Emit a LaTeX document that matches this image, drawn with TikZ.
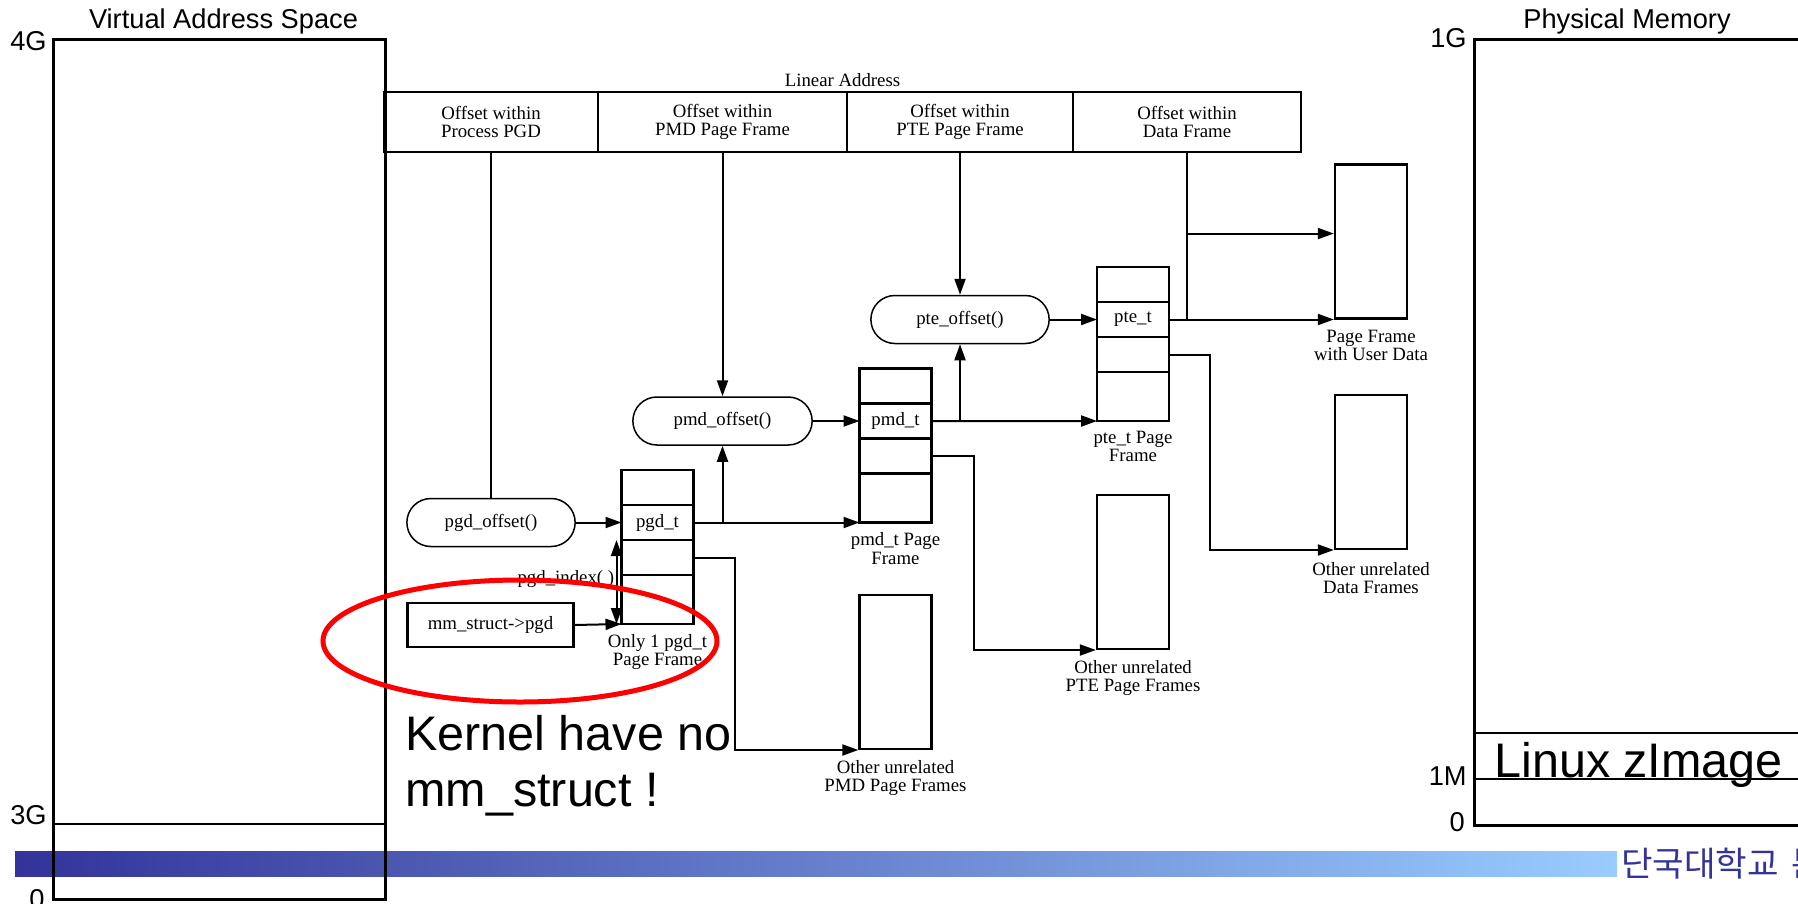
\documentclass[tikz,border=0pt]{standalone}
\usepackage{fontspec}
\setmainfont{Liberation Serif}
\setsansfont{Liberation Sans}
\newfontfamily\hangulfont{Noto Sans CJK KR}
\usetikzlibrary{positioning,calc,arrows.meta,shapes.misc,shapes.geometric}
\definecolor{barLeft}{RGB}{51,51,153}
\definecolor{barRight}{RGB}{153,204,255}
\definecolor{univBlue}{RGB}{51,51,153}
\newcommand\figfont{\fontsize{10.7}{10.4}\selectfont}
\newcommand\axisfont{\sffamily\fontsize{15.5}{17}\selectfont}
\newcommand\notefont{\sffamily\fontsize{27.6}{32}\selectfont}
\tikzset{
  >={Triangle[length=3.2mm,width=2.2mm]},
  wire/.style={line width=0.4mm},
  addrCell/.style={draw,line width=0.46mm,outer sep=0pt,minimum height=12mm,inner sep=0pt,align=center,font=\figfont},
  offsetFunc/.style={draw,rounded rectangle,line width=0.3mm,minimum height=9.6mm,font=\figfont},
  tblRow/.style={draw,line width=0.46mm,minimum width=14.4mm,inner sep=0pt,outer sep=0pt},
  frameBox/.style={draw,line width=0.46mm,minimum width=14.4mm,minimum height=30.8mm,inner sep=0pt},
  frameLabel/.style={font=\figfont,align=center,anchor=north,inner sep=0pt},
  entryText/.style={font=\figfont,inner sep=0pt},
  memBox/.style={draw,line width=0.6mm,inner sep=0pt},
  axisLabel/.style={font=\axisfont,inner sep=0pt},
  noteText/.style={font=\notefont,inner sep=0pt,anchor=base west},
}

\begin{document}
\begin{tikzpicture}[x=0.2mm,y=-0.2mm]
\useasboundingbox (0,0) rectangle (1798,903);

% ===== Footer bar =====
\shade[left color=barLeft,right color=barRight] (15,851) rectangle (1617,876);
\node[font={\hangulfont\fontsize{19.5}{22}\selectfont},text=univBlue,anchor=west,inner sep=0pt] (univName) at (1621,864) {단국대학교\hspace{2.6mm}분산처리 연구실};

% ===== Virtual address space =====
\node[memBox,minimum width=66.4mm,minimum height=172mm,anchor=north west] (vasBox) at (52,38) {};
\coordinate (vas3G) at (52,824);
\draw[line width=0.46mm] (vas3G) -- (vas3G -| vasBox.east);
\node[axisLabel,anchor=base] (vasTitle) at ($(vasBox.north)+(4,-10)$) {Virtual Address Space};
\node[axisLabel,anchor=base east] (vas4G) at ($(vasBox.north west)+(-5,12)$) {4G};
\node[axisLabel,anchor=base east] (vas3GLbl) at ($(vas3G)+(-5,0)$) {3G};
\node[axisLabel,anchor=base east] (vas0) at ($(vasBox.south west)+(-7,7)$) {0};

% ===== Physical memory =====
\node[memBox,minimum width=70mm,minimum height=157.2mm,anchor=north west] (pmBox) at (1473,38) {};
\coordinate (pmImgTop) at (1473,733);
\coordinate (pm1M) at (1473,779);
\draw[line width=0.46mm] (pmImgTop) -- (pmImgTop -| pmBox.east);
\draw[line width=0.46mm] (pm1M) -- (pm1M -| pmBox.east);
\node[axisLabel,anchor=base] (pmTitle) at ($(pmBox.north west)+(154,-10)$) {Physical Memory};
\node[axisLabel,anchor=base east] (pm1G) at ($(pmBox.north west)+(-6,9)$) {1G};
\node[axisLabel,anchor=base east] (pm1MLbl) at ($(pm1M)+(-6,6)$) {1M};
\node[axisLabel,anchor=base east] (pm0) at ($(pmBox.south west)+(-8,4)$) {0};
\node[noteText] (zImage) at ($(pm1M)+(21,-2)$) {Linux zImage};

% ===== Linear address =====
\node[addrCell,minimum width=42.8mm,anchor=north west] (pgdCell) at (384,92) {Offset within\\Process PGD};
\node[addrCell,minimum width=49.8mm,right=0pt of pgdCell] (pmdCell) {Offset within\\PMD Page Frame};
\node[addrCell,minimum width=45.2mm,right=0pt of pmdCell] (pteCell) {Offset within\\PTE Page Frame};
\node[addrCell,minimum width=45.6mm,right=0pt of pteCell] (dataCell) {Offset within\\Data Frame};
\node[entryText,anchor=base] (linAddr) at ($(pgdCell.north west)!0.5!(dataCell.north east)+(0,-6)$) {Linear Address};

% ===== Page table frames =====
\foreach \tbl/\tx/\ty in {pgd/657.5/470, pmd/895.5/368.5, pte/1133/267} {
  \foreach [count=\i] \y/\h in {0/35, 35/35, 70/35, 105/49} {
    \node[tblRow,minimum height=\h*0.2mm] (\tbl\i) at (\tx,\ty+\y+\h/2) {};
  }
}
\node[entryText] (pgdEntry) at (pgd2) {pgd\_t};
\node[entryText] (pmdEntry) at (pmd2) {pmd\_t};
\node[entryText] (pteEntry) at (pte2) {pte\_t};
\node[frameLabel] (pgdLbl) at ($(pgd4.south)+(0,10)$) {Only 1 pgd\_t\\Page Frame};
\node[frameLabel] (pmdLbl) at ($(pmd4.south)+(0,10)$) {pmd\_t Page\\Frame};
\node[frameLabel] (pteLbl) at ($(pte4.south)+(0,10)$) {pte\_t Page\\Frame};

% ===== Offset functions =====
\node[offsetFunc,minimum width=36mm] (pgdFunc) at (pgdCell.south |- pgd2) {pgd\_offset()};
\node[offsetFunc,minimum width=38.2mm] (pmdFunc) at (pmdCell.south |- pmd2) {pmd\_offset()};
\node[offsetFunc,minimum width=38mm] (pteFunc) at (pteCell.south |- pte2) {pte\_offset()};

% ===== Unrelated / data frames =====
\node[frameBox,anchor=south] (pmdOther) at ($(pmd4.south)+(0,227.5)$) {};
\node[frameBox,anchor=south] (pteOther) at ($(pte4.south)+(0,229)$) {};
\node[frameBox,anchor=south] (dataOther) at ($(pteOther.south)+(238,-100)$) {};
\node[frameBox,anchor=south] (userFrame) at ($(pte2)+(238,0)$) {};
\node[frameLabel] (pmdOtherLbl) at ($(pmdOther.south)+(0,10)$) {Other unrelated\\PMD Page Frames};
\node[frameLabel] (pteOtherLbl) at ($(pteOther.south)+(0,10)$) {Other unrelated\\PTE Page Frames};
\node[frameLabel] (dataOtherLbl) at ($(dataOther.south)+(0,12)$) {Other unrelated\\Data Frames};
\node[frameLabel] (userLbl) at ($(userFrame.south)+(0,10)$) {Page Frame\\with User Data};

% ===== mm_struct =====
\node[draw,line width=0.46mm,minimum width=33.2mm,minimum height=8.8mm,font=\figfont] (mmPgd) at ($(pgd4.south west)+(-131,1)$) {mm\_struct->pgd};

% ===== Connections =====
\draw[wire] (pgdCell.south) -- (pgdFunc.north);
\draw[wire,->] (pmdCell.south) -- (pmdFunc.north);
\draw[wire,->] (pteCell.south) -- (pteFunc.north);
\draw[wire,->] (pgdFunc.east) -- (pgd2.west);
\draw[wire,->] (pmdFunc.east) -- (pmd2.west);
\draw[wire,->] (pteFunc.east) -- (pte2.west);
\draw[wire,->] (pgd2.east) -- (pmd4.south west);
\draw[wire,->] (pgd2.east -| pmdFunc.south) -- (pmdFunc.south);
\draw[wire,->] (pmd2.east) -- (pte4.south west);
\draw[wire,->] (pmd2.east -| pteFunc.south) -- (pteFunc.south);
\draw[wire,->] (pte2.east) -- (userFrame.south west);
\coordinate (userHook) at ($(userFrame.north west)!0.45!(userFrame.south west)$);
\draw[wire] (dataCell.south) -- (dataCell.south |- pte2.east);
\draw[wire,->] (dataCell.south |- userHook) -- (userHook);
\draw[wire,->] (pgd3.east) -- ++(41,0) |- (pmdOther.south west);
\draw[wire,->] (pmd3.east) -- ++(42,0) |- (pteOther.south west);
\draw[wire,->] (pte3.east) -- ++(41,0) |- (dataOther.south west);
\draw[wire,->] (mmPgd.east) -- (pgd4.south west);
\coordinate (idxTop) at ($(pgd3.north west)+(-5,0)$);
\coordinate (idxBot) at ($(pgd4.south west)+(-5,0)$);
\draw[wire,<->] (idxBot) -- (idxTop);
\node[entryText,anchor=base east] (idxLbl) at ($(pgd4.north west)+(-7,8)$) {pgd\_index( )};

% ===== Annotation =====
\node[draw=red,ellipse,line width=1mm,minimum width=78.8mm,minimum height=24.4mm,inner sep=0pt] (noteRing) at (520,641) {};
\node[noteText] (noteA) at (405,750) {Kernel have no};
\node[noteText] (noteB) at ($(noteA.base west)+(0,56)$) {mm\_struct !};

\end{tikzpicture}
\end{document}
